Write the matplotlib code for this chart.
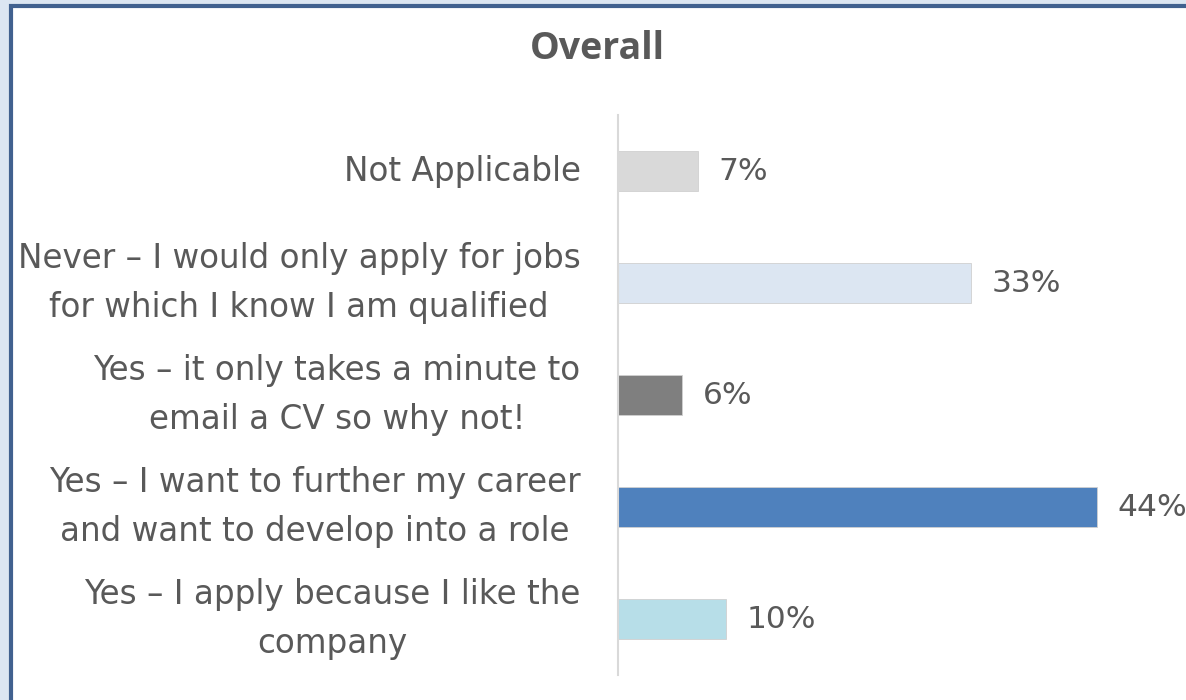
import matplotlib.pyplot as plt
from matplotlib.patches import Rectangle

# datos
categorias = [
    "Not Applicable",
    "Never \u2013 I would only apply for jobs\nfor which I know I am qualified",
    "Yes \u2013 it only takes a minute to\nemail a CV so why not!",
    "Yes \u2013 I want to further my career\nand want to develop into a role",
    "Yes \u2013 I apply because I like the\ncompany",
]
valores = [7.4, 32.6, 5.9, 44.2, 10.0]
colores = ["#d9d9d9", "#dce6f2", "#7f7f7f", "#4f81bd", "#b7dee8"]
etiquetas = ["7%", "33%", "6%", "44%", "10%"]

plt.rcParams["font.family"] = ["DejaVu Sans"]
texto = "#595959"

fig = plt.figure(figsize=(11.86, 7), dpi=100, facecolor="#dce6f2")
# marco blanco con borde azul
fig.patches.append(Rectangle((11 / 1186, -0.2), 1.2, 1.2 - 6 / 700,
                             transform=fig.transFigure, facecolor="white",
                             edgecolor="#41618f", linewidth=3, zorder=-10))

ax = fig.add_axes([618 / 1186, 25 / 700, (1160 - 618) / 1186, 560 / 700])
ax.set_facecolor("none")

y = list(range(len(categorias)))
ax.barh(y, valores, height=0.36, color=colores, edgecolor="#d0d0d0", linewidth=0.6)
for yi, v, lab in zip(y, valores, etiquetas):
    ax.text(v + 1.9, yi, lab, va="center", ha="left", fontsize=22.5, color=texto)

ax.set_ylim(len(categorias) - 0.5, -0.5)
ax.set_xlim(0, 50)
ax.set_yticks(y)
ax.set_yticklabels(categorias, fontsize=23.5, color=texto, multialignment="center",
                   linespacing=1.6, va="center")
ax.tick_params(axis="y", length=0, pad=27)
ax.set_xticks([])
for s in ["top", "right", "bottom"]:
    ax.spines[s].set_visible(False)
ax.spines["left"].set_color("#d9d9d9")
ax.spines["left"].set_linewidth(1.5)

fig.text(597 / 1186, 1 - 49 / 700, "Overall", ha="center", va="center",
         fontsize=27, fontweight="bold", color=texto, family="Open Sans")

plt.savefig("out.png", dpi=100, facecolor=fig.get_facecolor())
